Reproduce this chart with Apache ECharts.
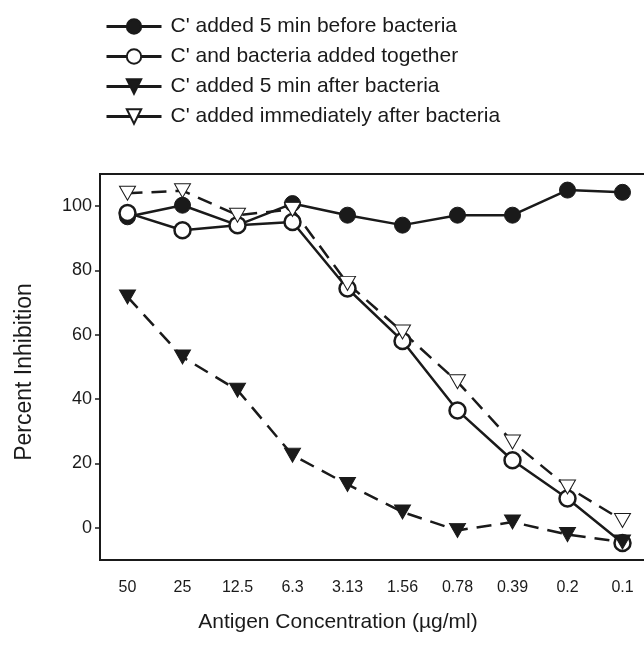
<!DOCTYPE html>
<html>
<head>
<meta charset="utf-8">
<script src="https://cdn.jsdelivr.net/npm/echarts@6/dist/echarts.min.js"></script>
<style>
  html, body { margin: 0; padding: 0; background: #fff; }
  #chart { width: 644px; height: 647px; }
</style>
</head>
<body>
<div id="chart"></div>
<script>
// Percent inhibition vs antigen concentration, four complement timings
const concentrations = ["50", "25", "12.5", "6.3", "3.13", "1.56", "0.78", "0.39", "0.2", "0.1"];
const yTicks = [0, 20, 40, 60, 80, 100];

const before5 = [96.7, 100.3, 94.1, 100.8, 97.2, 94.1, 97.2, 97.2, 105, 104.3];
const together = [97.9, 92.5, 94.1, 95.1, 74.4, 58.1, 36.5, 21, 9.1, -4.7];
const after5 = [71.8, 53.1, 42.8, 22.6, 13.5, 4.9, -0.8, 1.8, -2.1, -4.4];
const afterNow = [104, 104.8, 97.2, 99, 76, 60.9, 45.4, 26.7, 12.7, 2.3];

const names = [
  "C' added 5 min before bacteria",
  "C' and bacteria added together",
  "C' added 5 min after bacteria",
  "C' added immediately after bacteria",
];

const INK = "#1a1a1a";
const FONT = "Liberation Sans";
const downTri = "path://M0,0 L10,0 L5,8.7 Z";

const chart = echarts.init(document.getElementById("chart"), null, { renderer: "canvas" });

function lineSeries(name, data, opts) {
  return {
    name,
    type: "line",
    data,
    symbol: opts.symbol,
    symbolSize: opts.size,
    lineStyle: { color: INK, width: 2.5, type: opts.dash ? [15, 9] : "solid" },
    itemStyle: { color: opts.fill, borderColor: INK, borderWidth: opts.border },
    emphasis: { disabled: true },
    animation: false,
  };
}

chart.setOption({
  backgroundColor: "#fff",
  textStyle: { fontFamily: FONT, color: INK },
  legend: {
    orient: "vertical",
    left: 100,
    top: 11,
    itemWidth: 55,
    itemHeight: 18,
    itemGap: 9,
    textStyle: { fontFamily: FONT, fontSize: 21, color: INK, padding: [0, 0, 0, 4] },
    lineStyle: { type: "solid", width: 3 },
    data: names,
  },
  grid: {
    left: 100, right: -6, top: 174, bottom: 87,
    outerBoundsMode: "none",
    show: true, borderColor: INK, borderWidth: 2, backgroundColor: "transparent",
  },
  xAxis: {
    type: "category",
    data: concentrations,
    boundaryGap: true,
    name: "Antigen Concentration (µg/ml)",
    nameLocation: "middle",
    nameGap: 52,
    nameTextStyle: { fontFamily: FONT, fontSize: 21, color: INK, padding: [0, 74, 0, 0] },
    axisLine: { onZero: false, lineStyle: { color: INK, width: 2 } },
    axisTick: { alignWithLabel: true, length: 5, lineStyle: { color: INK, width: 1.5 } },
    axisLabel: { fontFamily: FONT, fontSize: 16, color: INK, margin: 20 },
    splitLine: { show: false },
  },
  yAxis: {
    type: "value",
    min: -10,
    max: 110,
    interval: 10,
    name: "Percent Inhibition",
    nameLocation: "middle",
    nameGap: 64,
    nameTextStyle: { fontFamily: FONT, fontSize: 23, color: INK, padding: [0, 10, 0, 0] },
    axisLine: { show: true, onZero: false, lineStyle: { color: INK, width: 2 } },
    axisTick: { show: true, length: 5, customValues: yTicks, lineStyle: { color: INK, width: 1.5 } },
    axisLabel: { fontFamily: FONT, fontSize: 18, color: INK, margin: 8, customValues: yTicks },
    splitLine: { show: false },
  },
  series: [
    lineSeries(names[0], before5, { symbol: "circle", size: 16, fill: INK, border: 1, dash: false }),
    lineSeries(names[1], together, { symbol: "circle", size: 16, fill: "#fff", border: 2.5, dash: false }),
    lineSeries(names[2], after5, { symbol: downTri, size: [16, 14], fill: INK, border: 1, dash: true }),
    lineSeries(names[3], afterNow, { symbol: downTri, size: [16, 14], fill: "#fff", border: 1, dash: true }),
  ],
});
</script>
</body>
</html>
